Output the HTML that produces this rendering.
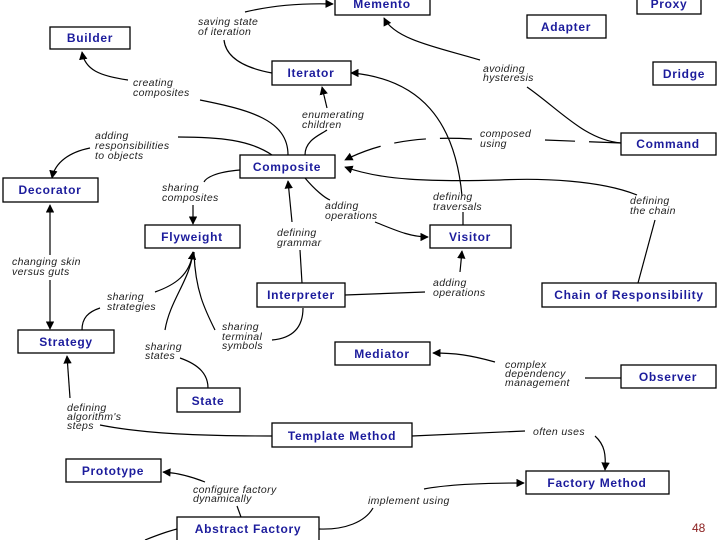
<!DOCTYPE html>
<html><head><meta charset="utf-8"><style>
html,body{margin:0;padding:0;background:#fff;}
svg{display:block;}
.b{fill:#fff;stroke:#000;stroke-width:1.3;}
.t{font-family:"Liberation Sans",sans-serif;font-weight:bold;font-size:12px;letter-spacing:0.7px;fill:#1c1c9c;text-anchor:middle;}
.l{font-family:"Liberation Sans",sans-serif;font-style:italic;font-size:10.5px;letter-spacing:0.35px;fill:#222;}
.c{fill:none;stroke:#000;stroke-width:1.2;}
</style></head><body>
<svg width="720" height="540" viewBox="0 0 720 540" xmlns="http://www.w3.org/2000/svg">
<defs><marker id="a" viewBox="0 0 10 10" refX="9" refY="5" markerWidth="7" markerHeight="7" orient="auto-start-reverse"><path d="M0,0 L10,5 L0,10 z" fill="#000"/></marker></defs>

<path class="c" d="M272,73 C245,68 226,58 224,40" />
<path class="c" d="M245,12 C270,6 300,3 333,4" marker-end="url(#a)"/>
<path class="c" d="M480,60 C440,48 395,40 384,18" marker-end="url(#a)"/>
<path class="c" d="M527,87 C560,110 585,140 621,143"/>
<path class="c" d="M353,73 C420,80 455,120 462,196"/>
<path class="c" d="M353,73 L351,73" marker-end="url(#a)"/>
<path class="c" d="M463,212 L463,225"/>
<path class="c" d="M288,155 C288,120 250,110 200,100"/>
<path class="c" d="M128,80 C100,76 85,70 82,52" marker-end="url(#a)"/>
<path class="c" d="M305,155 C305,140 320,135 327,130"/>
<path class="c" d="M327,108 L322,87" marker-end="url(#a)"/>
<path class="c" d="M272,155 C250,140 220,137 178,137"/>
<path class="c" d="M90,148 C70,152 55,162 52,178" marker-end="url(#a)"/>
<path class="c" stroke-dasharray="32,14" d="M621,143 L545,140"/>
<path class="c" stroke-dasharray="32,14" d="M472,139 C420,136 380,142 345,160" marker-end="url(#a)"/>
<path class="c" d="M638,283 L655,220"/>
<path class="c" d="M637,195 C600,180 540,178 500,180 C430,182 380,180 345,167" marker-end="url(#a)"/>
<path class="c" d="M240,170 C215,172 206,178 204,182"/>
<path class="c" d="M193,205 L193,224" marker-end="url(#a)"/>
<path class="c" d="M305,178 C315,190 325,198 330,200"/>
<path class="c" d="M375,222 C395,230 410,237 428,237" marker-end="url(#a)"/>
<path class="c" d="M302,283 L300,250"/>
<path class="c" d="M292,222 L288,181" marker-end="url(#a)"/>
<path class="c" d="M345,295 L425,292"/>
<path class="c" d="M460,272 L462,251" marker-end="url(#a)"/>
<path class="c" d="M50,255 L50,205" marker-end="url(#a)"/>
<path class="c" d="M50,280 L50,329" marker-end="url(#a)"/>
<path class="c" d="M155,292 C175,285 190,275 193,252" marker-end="url(#a)"/>
<path class="c" d="M100,308 C88,312 82,318 82,330"/>
<path class="c" d="M165,330 C170,300 190,280 193,252"/>
<path class="c" d="M180,358 C200,365 208,375 208,388"/>
<path class="c" d="M215,330 C205,310 195,290 194,252"/>
<path class="c" d="M272,340 C295,338 303,325 303,308"/>
<path class="c" d="M70,398 L67,356" marker-end="url(#a)"/>
<path class="c" d="M100,425 C150,435 220,436 272,436"/>
<path class="c" d="M412,436 L525,431"/>
<path class="c" d="M595,436 C605,445 606,455 605,470" marker-end="url(#a)"/>
<path class="c" d="M495,362 C470,355 455,353 433,353" marker-end="url(#a)"/>
<path class="c" d="M585,378 L621,378"/>
<path class="c" d="M205,482 C190,476 178,473 163,472" marker-end="url(#a)"/>
<path class="c" d="M237,506 L241,517"/>
<path class="c" d="M319,529 C345,530 365,522 373,508"/>
<path class="c" d="M424,489 C450,484 490,483 524,483" marker-end="url(#a)"/>
<path class="c" d="M177,529 C165,532 155,536 145,540"/>

<text class="l" x="198" y="25">saving state</text><text class="l" x="198" y="35">of iteration</text>
<text class="l" x="483" y="72">avoiding</text><text class="l" x="483" y="81">hysteresis</text>
<text class="l" x="133" y="86">creating</text><text class="l" x="133" y="96">composites</text>
<text class="l" x="302" y="118">enumerating</text><text class="l" x="302" y="128">children</text>
<text class="l" x="95" y="139">adding</text><text class="l" x="95" y="149">responsibilities</text><text class="l" x="95" y="159">to objects</text>
<text class="l" x="480" y="137">composed</text><text class="l" x="480" y="147">using</text>
<text class="l" x="162" y="191">sharing</text><text class="l" x="162" y="201">composites</text>
<text class="l" x="325" y="209">adding</text><text class="l" x="325" y="219">operations</text>
<text class="l" x="433" y="200">defining</text><text class="l" x="433" y="210">traversals</text>
<text class="l" x="630" y="204">defining</text><text class="l" x="630" y="214">the chain</text>
<text class="l" x="277" y="236">defining</text><text class="l" x="277" y="246">grammar</text>
<text class="l" x="12" y="265">changing skin</text><text class="l" x="12" y="275">versus guts</text>
<text class="l" x="433" y="286">adding</text><text class="l" x="433" y="296">operations</text>
<text class="l" x="107" y="300">sharing</text><text class="l" x="107" y="310">strategies</text>
<text class="l" x="222" y="330">sharing</text><text class="l" x="222" y="340">terminal</text><text class="l" x="222" y="349">symbols</text>
<text class="l" x="145" y="350">sharing</text><text class="l" x="145" y="359">states</text>
<text class="l" x="505" y="368">complex</text><text class="l" x="505" y="377">dependency</text><text class="l" x="505" y="386">management</text>
<text class="l" x="67" y="411">defining</text><text class="l" x="67" y="420">algorithm's</text><text class="l" x="67" y="429">steps</text>
<text class="l" x="533" y="435">often uses</text>
<text class="l" x="193" y="493">configure factory</text><text class="l" x="193" y="502">dynamically</text>
<text class="l" x="368" y="504">implement using</text>

<rect class="b" x="335" y="-5" width="95" height="20"/><text class="t" x="382" y="8">Memento</text>
<rect class="b" x="637" y="-5" width="64" height="19"/><text class="t" x="669" y="8">Proxy</text>
<rect class="b" x="527" y="15" width="79" height="23"/><text class="t" x="566" y="31">Adapter</text>
<rect class="b" x="50" y="27" width="80" height="22"/><text class="t" x="90" y="42">Builder</text>
<rect class="b" x="653" y="62" width="63" height="23"/><text class="t" x="684" y="78">Dridge</text>
<rect class="b" x="272" y="61" width="79" height="24"/><text class="t" x="311" y="77">Iterator</text>
<rect class="b" x="621" y="133" width="95" height="22"/><text class="t" x="668" y="148">Command</text>
<rect class="b" x="240" y="155" width="95" height="23"/><text class="t" x="287" y="171">Composite</text>
<rect class="b" x="3" y="178" width="95" height="24"/><text class="t" x="50" y="194">Decorator</text>
<rect class="b" x="145" y="225" width="95" height="23"/><text class="t" x="192" y="241">Flyweight</text>
<rect class="b" x="430" y="225" width="81" height="23"/><text class="t" x="470" y="241">Visitor</text>
<rect class="b" x="257" y="283" width="88" height="24"/><text class="t" x="301" y="299">Interpreter</text>
<rect class="b" x="542" y="283" width="174" height="24"/><text class="t" x="629" y="299">Chain of Responsibility</text>
<rect class="b" x="18" y="330" width="96" height="23"/><text class="t" x="66" y="346">Strategy</text>
<rect class="b" x="335" y="342" width="95" height="23"/><text class="t" x="382" y="358">Mediator</text>
<rect class="b" x="621" y="365" width="95" height="23"/><text class="t" x="668" y="381">Observer</text>
<rect class="b" x="177" y="388" width="63" height="24"/><text class="t" x="208" y="405">State</text>
<rect class="b" x="272" y="423" width="140" height="24"/><text class="t" x="342" y="440">Template Method</text>
<rect class="b" x="66" y="459" width="95" height="23"/><text class="t" x="113" y="475">Prototype</text>
<rect class="b" x="526" y="471" width="143" height="23"/><text class="t" x="597" y="487">Factory Method</text>
<rect class="b" x="177" y="517" width="142" height="26"/><text class="t" x="248" y="533">Abstract Factory</text>

<text x="692" y="532" font-family="Liberation Sans, sans-serif" font-size="12" fill="#8b2020">48</text>
</svg>
</body></html>
